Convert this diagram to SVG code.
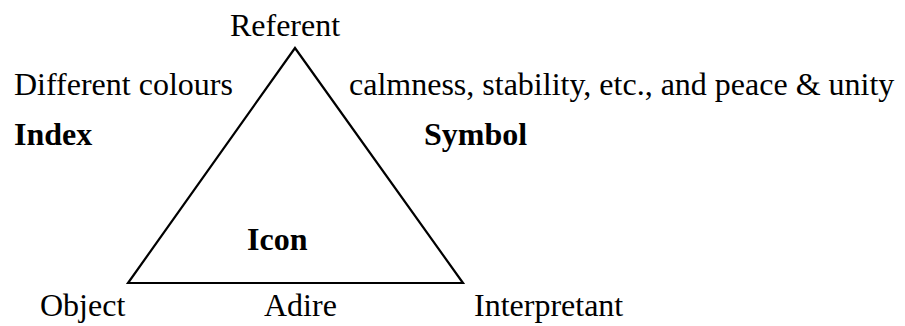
<svg xmlns="http://www.w3.org/2000/svg" width="905" height="326" viewBox="0 0 905 326">
<style>
text{font-family:'Liberation Serif','Times New Roman',Times,'DejaVu Serif',serif;font-size:32px;fill:#000}
.b{font-weight:bold}
</style>
<rect width="905" height="326" fill="#fff"/>
<g id="connectors">
<polygon points="295,48 128,283 463,283" fill="none" stroke="#000" stroke-width="2.2" stroke-linejoin="miter"/>
</g>
<g id="referent"><text x="285" y="36" text-anchor="middle" font-family="Liberation Serif">Referent</text></g>
<g id="different-colours"><text x="14" y="95">Different colours</text></g>
<g id="calmness"><text x="349" y="95">calmness, stability, etc., and peace &amp; unity</text></g>
<g id="index"><text class="b" x="14" y="145">Index</text></g>
<g id="symbol"><text class="b" x="424" y="145">Symbol</text></g>
<g id="icon"><text class="b" x="247" y="250">Icon</text></g>
<g id="object"><text x="40" y="316">Object</text></g>
<g id="adire"><text x="264" y="316">Adire</text></g>
<g id="interpretant"><text x="474" y="316">Interpretant</text></g>
</svg>
